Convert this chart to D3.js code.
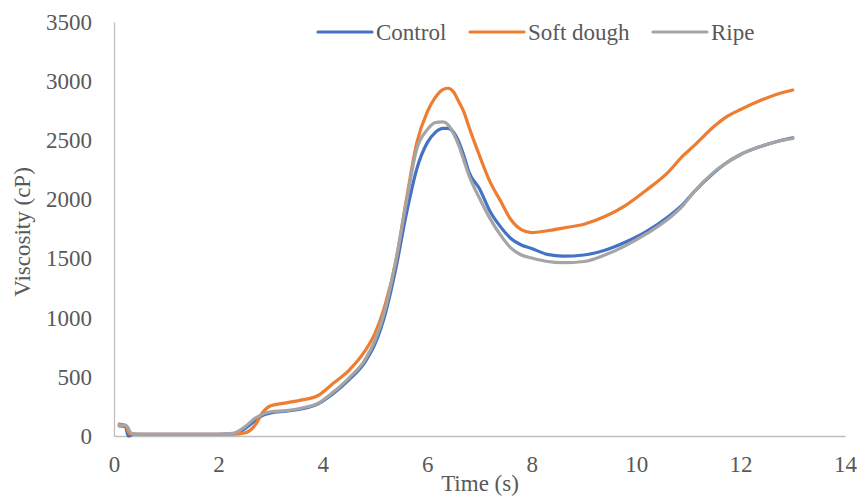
<!DOCTYPE html>
<html>
<head>
<meta charset="utf-8">
<script src="https://cdn.jsdelivr.net/npm/d3@7"></script>
<style>
  body { margin: 0; background: #fff; }
  svg { display: block; }
  text { font-family: "Liberation Serif", "Times New Roman", serif; fill: #595959; }
</style>
</head>
<body>
<svg id="chart" width="859" height="496"></svg>
<script>
const time = [0.1, 0.22, 0.27, 0.3, 0.35, 0.5, 1, 1.5, 2, 2.3, 2.5, 2.7, 2.85, 3.0, 3.3, 3.6, 3.9, 4.2, 4.5, 4.8, 5.0, 5.2, 5.4, 5.6, 5.8, 6.0, 6.15, 6.3, 6.4, 6.5, 6.6, 6.7, 6.8, 7.0, 7.2, 7.4, 7.6, 7.8, 8.0, 8.3, 8.6, 9.0, 9.4, 9.8, 10.2, 10.6, 10.9, 11.1, 11.5, 11.7, 12.0, 12.4, 12.7, 13.0];

const control = [85, 80, 0, 0, 15, 15, 15, 15, 15, 20, 60, 130, 175, 195, 210, 230, 270, 360, 475, 620, 780, 1040, 1420, 1880, 2260, 2480, 2565, 2600, 2600, 2570, 2490, 2370, 2230, 2090, 1900, 1770, 1670, 1615, 1585, 1535, 1520, 1530, 1570, 1640, 1730, 1850, 1960, 2060, 2230, 2300, 2380, 2450, 2490, 2520];

const softDough = [100, 90, 40, 20, 15, 15, 15, 15, 15, 15, 25, 90, 200, 255, 280, 305, 340, 445, 555, 715, 870, 1120, 1480, 2000, 2480, 2740, 2860, 2930, 2940, 2910, 2830, 2740, 2610, 2370, 2150, 1990, 1830, 1745, 1720, 1735, 1758, 1790, 1855, 1950, 2080, 2225, 2370, 2450, 2620, 2690, 2760, 2840, 2890, 2925];

const ripe = [90, 90, 70, 40, 20, 15, 15, 15, 15, 25, 75, 150, 185, 205, 215, 237, 275, 372, 490, 640, 810, 1080, 1490, 1980, 2430, 2590, 2650, 2655, 2630, 2560, 2460, 2330, 2200, 2010, 1840, 1700, 1590, 1530, 1505, 1475, 1465, 1475, 1530, 1610, 1710, 1830, 1950, 2060, 2235, 2300, 2380, 2450, 2490, 2515];

const seriesNames = ["Control", "Soft dough", "Ripe"];
const seriesColors = ["#4472C4", "#ED7D31", "#A5A5A5"];
const seriesValues = [control, softDough, ripe];

const xTicks = [0, 2, 4, 6, 8, 10, 12, 14];
const yTicks = [0, 500, 1000, 1500, 2000, 2500, 3000, 3500];

const svg = d3.select("#chart");
const margin = { left: 114, top: 22, right: 14, bottom: 60 };
const W = 859, H = 496;
const x = d3.scaleLinear().domain([0, 14]).range([margin.left, W - margin.right]);
const y = d3.scaleLinear().domain([0, 3500]).range([H - margin.bottom, margin.top]);

// axes
const xAxis = svg.append("g").attr("transform", `translate(0,${y(0)})`)
  .call(d3.axisBottom(x).tickValues(xTicks).tickSize(0).tickPadding(20).tickFormat(d3.format("d")));
xAxis.select(".domain").attr("stroke", "#BFBFBF").attr("stroke-width", 1.3);
xAxis.selectAll("text").style("font-size", "23px").attr("fill", "#595959");

const yAxis = svg.append("g").attr("transform", `translate(${x(0)},0)`)
  .call(d3.axisLeft(y).tickValues(yTicks).tickSize(0).tickPadding(22).tickFormat(d3.format("d")));
yAxis.select(".domain").attr("stroke", "#BFBFBF").attr("stroke-width", 1.3);
yAxis.selectAll("text").style("font-size", "23px").attr("fill", "#595959");

// lines
const line = d3.line().curve(d3.curveMonotoneX);
seriesValues.forEach((vals, i) => {
  svg.append("path")
    .attr("d", line(time.map((t, j) => [x(t), y(vals[j])])))
    .attr("fill", "none")
    .attr("stroke", seriesColors[i])
    .attr("stroke-width", 3.2)
    .attr("stroke-linejoin", "round")
    .attr("stroke-linecap", "round");
});

// titles
svg.append("text").attr("x", 480).attr("y", 491).attr("text-anchor", "middle")
  .style("font-size", "23px").text("Time (s)");
svg.append("text").attr("transform", "translate(30,232) rotate(-90)").attr("text-anchor", "middle")
  .style("font-size", "23px").text("Viscosity (cP)");

// legend
const legendX = [318, 470, 653];
seriesNames.forEach((n, i) => {
  const g = svg.append("g");
  g.append("line").attr("x1", legendX[i]).attr("x2", legendX[i] + 54)
    .attr("y1", 32).attr("y2", 32)
    .attr("stroke", seriesColors[i]).attr("stroke-width", 3.2).attr("stroke-linecap", "round");
  g.append("text").attr("x", legendX[i] + 58).attr("y", 39.5)
    .style("font-size", "23px").text(n);
});
</script>
</body>
</html>
